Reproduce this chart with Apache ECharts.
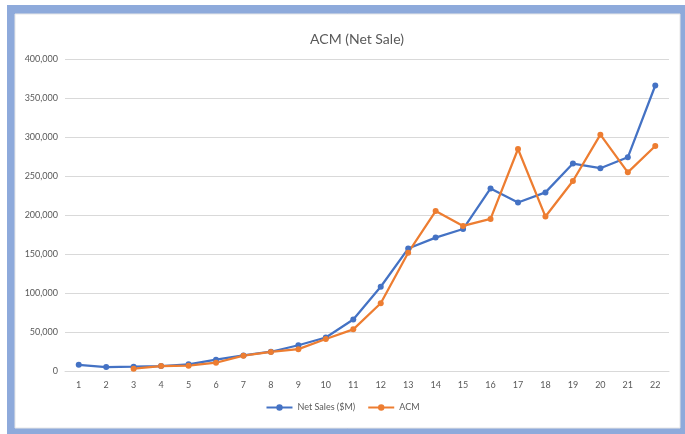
<!DOCTYPE html>
<html>
<head>
<meta charset="utf-8">
<script src="https://cdn.jsdelivr.net/npm/echarts@6/dist/echarts.min.js"></script>
<style>
  html, body { margin: 0; padding: 0; background: #ffffff; }
  #chart { width: 685px; height: 434px; }
</style>
</head>
<body>
<div id="chart"></div>
<script>
// Periods 1..22
const periods = ['1','2','3','4','5','6','7','8','9','10','11','12','13','14','15','16','17','18','19','20','21','22'];
// Net sales ($M)
const netSales = [8000, 5000, 5500, 6400, 8500, 14500, 20000, 24700, 33000, 43000, 66000, 108000, 157000, 171000, 182000, 234000, 216000, 229000, 266000, 260000, 274000, 366000];
// ACM (starts at period 3)
const acm = [null, null, 3000, 6400, 6800, 10600, 19700, 24400, 28000, 41000, 53400, 86800, 151700, 205000, 186000, 195000, 284600, 198000, 243600, 303000, 254700, 288500];
// Value axis ticks
const yMin = 0, yMax = 400000, yStep = 50000;

const fontFamily = 'Lato, "Open Sans", "Liberation Sans", sans-serif';
const chart = echarts.init(document.getElementById('chart'), null, { renderer: 'canvas' });

chart.setOption({
  animation: false,
  backgroundColor: '#ffffff',
  graphic: [
    { type: 'rect', z: -10, silent: true, shape: { x: 7, y: 5, width: 678, height: 429 }, style: { fill: '#8eaadb' } },
    { type: 'rect', z: -9, silent: true, shape: { x: 15, y: 14, width: 665, height: 414 }, style: { fill: '#ffffff', stroke: '#e6e6e6', lineWidth: 1 } }
  ],
  title: {
    text: 'ACM (Net Sale)',
    left: 352, top: 27, textAlign: 'center',
    textStyle: { fontFamily, fontSize: 14, fontWeight: 'normal', color: '#595959' }
  },
  legend: {
    bottom: 17, left: 'center',
    itemWidth: 26, itemHeight: 8, itemGap: 12,
    textStyle: { fontFamily, fontSize: 9, color: '#595959' },
    data: ['Net Sales ($M)', 'ACM']
  },
  grid: { left: 65, right: 16, top: 59, bottom: 63, containLabel: false },
  xAxis: {
    type: 'category',
    data: periods,
    boundaryGap: true,
    axisLine: { lineStyle: { color: '#d9d9d9', width: 1 } },
    axisTick: { show: false },
    axisLabel: { fontFamily, fontSize: 9, color: '#595959', margin: 10 }
  },
  yAxis: {
    type: 'value',
    min: yMin, max: yMax, interval: yStep,
    axisLine: { show: false },
    axisTick: { show: false },
    splitLine: { lineStyle: { color: '#d9d9d9', width: 1 } },
    axisLabel: {
      fontFamily, fontSize: 9, color: '#595959', margin: 7,
      formatter: v => v.toLocaleString('en-US')
    }
  },
  series: [
    {
      name: 'Net Sales ($M)', type: 'line', data: netSales,
      symbol: 'circle', symbolSize: 6,
      lineStyle: { color: '#4472c4', width: 2.25 },
      itemStyle: { color: '#4472c4' }
    },
    {
      name: 'ACM', type: 'line', data: acm,
      symbol: 'circle', symbolSize: 6,
      lineStyle: { color: '#ed7d31', width: 2.25 },
      itemStyle: { color: '#ed7d31' }
    }
  ]
});
</script>
</body>
</html>
